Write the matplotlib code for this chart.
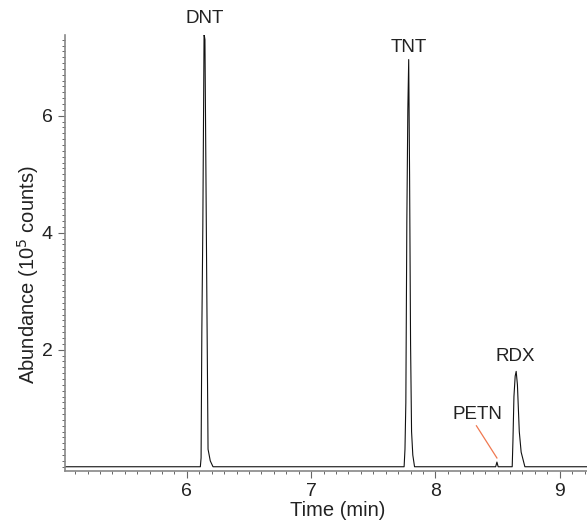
import matplotlib
import matplotlib.pyplot as plt
from matplotlib.ticker import MultipleLocator, FixedLocator

matplotlib.use("Agg")

plt.rcParams["font.family"] = ["Liberation Sans", "DejaVu Sans"]

# chromatogram trace (time in min, abundance in 10^5 counts)
time = [
    5.00,
    6.108, 6.114, 6.120, 6.128, 6.138, 6.145, 6.152, 6.160, 6.170, 6.188, 6.210,
    7.748, 7.755, 7.762, 7.770, 7.778, 7.785, 7.792, 7.800, 7.808, 7.818, 7.832,
    8.485, 8.495, 8.505,
    8.618, 8.624, 8.632, 8.642, 8.650, 8.660, 8.675, 8.690, 8.720,
    9.25,
]
abundance = [
    0.00,
    0.00, 0.15, 2.30, 4.10, 7.40, 7.30, 5.30, 3.00, 0.30, 0.10, 0.00,
    0.00, 0.30, 1.10, 4.20, 6.10, 6.96, 5.00, 2.10, 0.60, 0.20, 0.00,
    0.00, 0.08, 0.00,
    0.00, 0.45, 1.20, 1.55, 1.63, 1.40, 0.60, 0.25, 0.00,
    0.00,
]

peak_names = ["DNT", "TNT", "RDX"]
peak_label_x = [6.14, 7.785, 8.645]
peak_label_y = [7.66, 7.17, 1.88]

petn_label = "PETN"
petn_label_xy = (8.34, 0.90)
petn_arrow_from = (8.33, 0.70)
petn_arrow_to = (8.495, 0.15)

fig = plt.figure(figsize=(5.87, 5.22), dpi=100)
ax = fig.add_axes([0.111, 0.098, 0.889, 0.835])

ax.plot(time, abundance, color="#111111", lw=0.8)

for name, x, y in zip(peak_names, peak_label_x, peak_label_y):
    ax.text(x, y, name, ha="center", va="center", fontsize=13.5, color="#222222")

ax.text(petn_label_xy[0], petn_label_xy[1], petn_label, ha="center",
        va="center", fontsize=13.5, color="#222222")
ax.plot([petn_arrow_from[0], petn_arrow_to[0]],
        [petn_arrow_from[1], petn_arrow_to[1]], color="#f07850", lw=0.9)

ax.set_xlim(5.02, 9.22)
ax.set_ylim(-0.07, 7.38)

ax.xaxis.set_major_locator(FixedLocator([6, 7, 8, 9]))
ax.xaxis.set_minor_locator(MultipleLocator(0.1))
ax.yaxis.set_major_locator(FixedLocator([2, 4, 6]))
ax.yaxis.set_minor_locator(MultipleLocator(0.1))

for side in ["top", "right"]:
    ax.spines[side].set_visible(False)
for side in ["left", "bottom"]:
    ax.spines[side].set_color("#888888")
    ax.spines[side].set_linewidth(1.2)

ax.tick_params(which="major", length=5, width=0.8, color="#666666",
               labelsize=14, labelcolor="#222222", pad=4)
ax.tick_params(which="minor", length=2.5, width=0.7, color="#666666")

ax.set_xlabel("Time (min)", fontsize=14.5, color="#222222", va="center")
ax.set_ylabel("Abundance (10$^5$ counts)", fontsize=14.5, color="#222222",
              va="center")
ax.xaxis.set_label_coords(0.522, -0.092)
ax.yaxis.set_label_coords(-0.071, 0.45)

fig.savefig("out.png", dpi=100)
